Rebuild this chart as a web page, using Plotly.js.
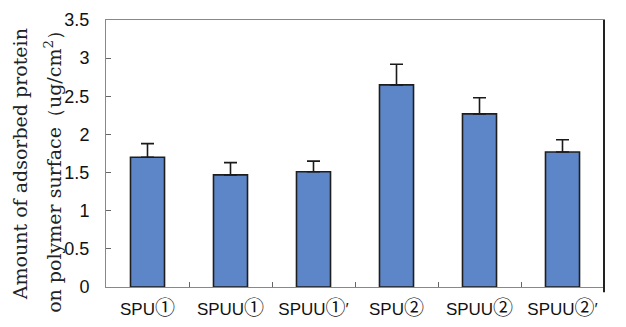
<!DOCTYPE html>
<html><head><meta charset="utf-8">
<script src="https://cdn.plot.ly/plotly-3.0.1.min.js"></script>
<style>html,body{margin:0;padding:0;background:#fff}#c{width:626px;height:327px}</style>
</head><body><div id="c"></div>
<script>
const categories = ["SPU①", "SPUU①", "SPUU①′", "SPU②", "SPUU②", "SPUU②′"];
const values = [1.70, 1.47, 1.51, 2.65, 2.27, 1.77];
const errors = [0.18, 0.16, 0.14, 0.27, 0.21, 0.16];
const yTicks = [0, 0.5, 1, 1.5, 2, 2.5, 3, 3.5];
const titleLines = ["Amount of adsorbed protein", "on polymer surface（ug/cm<sup>2</sup>）"];

const tickLabels = categories.map(c =>
  c.replace(/([①②])/g, "<span style=\"font-family:'Noto Sans CJK JP';font-size:20px\">$1</span>"));

const trace = {
  type: "bar",
  x: categories,
  y: values,
  width: 0.41,
  marker: {color: "#5d86c8", line: {color: "#1e1e1e", width: 1.6}},
  error_y: {type: "data", array: errors, arrayminus: errors.map(() => 0), symmetric: false,
            color: "#1a1a1a", thickness: 1.6, width: 6.5},
  hoverinfo: "none"
};

const titleFont = {family: "DejaVu Serif, Liberation Serif, serif", size: 19, color: "#222"};

const layout = {
  width: 626, height: 327,
  margin: {l: 106, r: 22, t: 20, b: 40},
  paper_bgcolor: "#fff", plot_bgcolor: "#fff",
  showlegend: false,
  xaxis: {
    type: "category",
    tickson: "boundaries",
    tickmode: "array",
    tickvals: categories,
    ticktext: tickLabels,
    ticks: "inside", ticklen: 5, tickcolor: "#666",
    showline: true, linecolor: "#888", linewidth: 1, mirror: true,
    showgrid: false,
    ticklabelstandoff: 7,
    tickfont: {family: "Liberation Sans, Noto Sans CJK JP, sans-serif", size: 17, color: "#111"}
  },
  yaxis: {
    range: [0, 3.5],
    tickvals: yTicks,
    ticktext: yTicks.map(String),
    ticks: "inside", ticklen: 5, tickcolor: "#666",
    showline: true, linecolor: "#888", linewidth: 1, mirror: true,
    showgrid: false, zeroline: false,
    ticklabelstandoff: 12,
    tickfont: {family: "Liberation Sans, sans-serif", size: 18, color: "#111"}
  },
  annotations: [
    {text: titleLines[0], xref: "paper", yref: "paper", x: (20 - 106) / 498, y: 0.46,
     xanchor: "center", yanchor: "middle", textangle: -90, showarrow: false, font: titleFont},
    {text: titleLines[1], xref: "paper", yref: "paper", x: (53 - 106) / 498, y: 0.45,
     xanchor: "center", yanchor: "middle", textangle: -90, showarrow: false, font: titleFont}
  ],
  shapes: [{type: "line", xref: "paper", yref: "paper", x0: 1, x1: 1, y0: -0.02, y1: 1.0,
            line: {color: "#222", width: 2}}]
};

Plotly.newPlot("c", [trace], layout, {staticPlot: true, displayModeBar: false});
</script></body></html>
